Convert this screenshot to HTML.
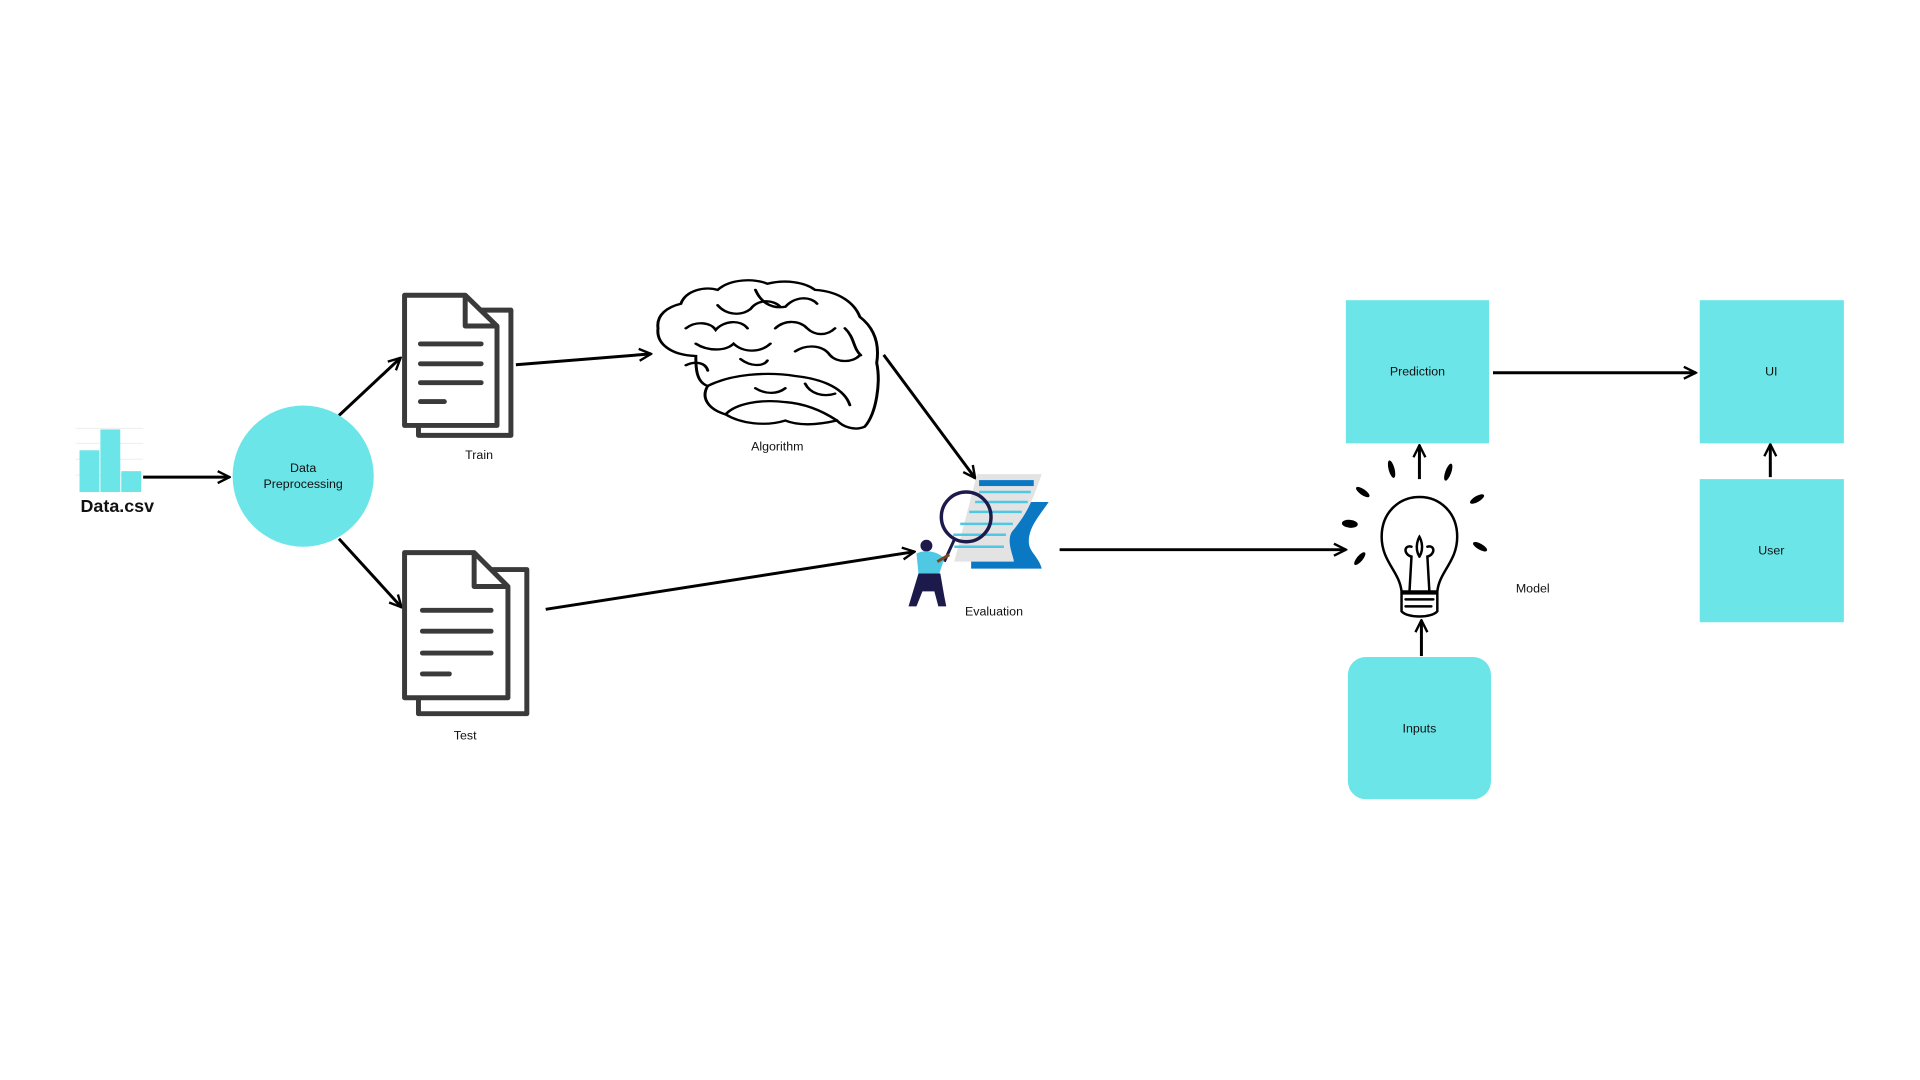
<!DOCTYPE html>
<html><head><meta charset="utf-8"><style>
html,body{margin:0;padding:0;background:#fff;width:1920px;height:1080px;overflow:hidden}
svg{display:block}
text{font-family:"Liberation Sans",sans-serif;fill:#111}
</style></head><body>
<svg width="1920" height="1080" viewBox="0 0 1920 1080" xmlns="http://www.w3.org/2000/svg">
<defs>
<marker id="ah" viewBox="0 0 10 10" refX="9" refY="5" markerWidth="5" markerHeight="5" orient="auto" markerUnits="strokeWidth">
<path d="M1 1 L9 5 L1 9" fill="none" stroke="#000" stroke-width="1.6"/>
</marker>
</defs>
<g transform="scale(0.994)">
<g stroke="#000" stroke-width="3" fill="none" marker-end="url(#ah)">
<line x1="144" y1="480" x2="231" y2="480"/>
<line x1="341" y1="418" x2="403" y2="360"/>
<line x1="341" y1="542" x2="404" y2="611"/>
<line x1="519" y1="367" x2="655" y2="356"/>
<line x1="889" y1="357" x2="981" y2="481"/>
<line x1="549" y1="613" x2="920" y2="555"/>
<line x1="1066" y1="553" x2="1354" y2="553"/>
<line x1="1428" y1="482" x2="1428" y2="448"/>
<line x1="1502" y1="375" x2="1706" y2="375"/>
<line x1="1781" y1="480" x2="1781" y2="447"/>
<line x1="1430" y1="660" x2="1430" y2="624"/>
</g>
<!-- bar chart -->
<g stroke="#eee" stroke-width="1"><line x1="76" y1="431" x2="144" y2="431"/><line x1="76" y1="446" x2="144" y2="446"/><line x1="76" y1="462" x2="144" y2="462"/><line x1="76" y1="478" x2="144" y2="478"/></g>
<rect x="80" y="453" width="20" height="42" fill="#6be5e8"/>
<rect x="101" y="432" width="20" height="63" fill="#6be5e8"/>
<rect x="122" y="474" width="20" height="21" fill="#6be5e8"/>
<text x="118" y="515" font-size="18" font-weight="bold" text-anchor="middle">Data.csv</text>
<!-- circle -->
<circle cx="305" cy="479" r="71" fill="#6be5e8"/>
<text x="305" y="475" font-size="12.5" text-anchor="middle">Data</text>
<text x="305" y="491" font-size="12.5" text-anchor="middle">Preprocessing</text>
<!-- train doc -->
<g stroke="#3a3a3a" stroke-width="5" fill="#fff" stroke-linejoin="round">
<path d="M421 312 H514 V438 H421 Z"/>
<path d="M407 297 H468 L500 328 V428 H407 Z"/>
<path d="M468 297 V328 H500" fill="none"/>
</g>
<g stroke="#3a3a3a" stroke-width="5" stroke-linecap="round"><line x1="423" y1="346" x2="484" y2="346"/><line x1="423" y1="366" x2="484" y2="366"/><line x1="423" y1="385" x2="484" y2="385"/><line x1="423" y1="404" x2="447" y2="404"/></g>
<text x="482" y="462" font-size="12.5" text-anchor="middle">Train</text>
<!-- test doc -->
<g stroke="#3a3a3a" stroke-width="5" fill="#fff" stroke-linejoin="round">
<path d="M421 573 H530 V718 H421 Z"/>
<path d="M407 556 H477 L511 590 V702 H407 Z"/>
<path d="M477 556 V590 H511" fill="none"/>
</g>
<g stroke="#3a3a3a" stroke-width="5" stroke-linecap="round"><line x1="425" y1="614" x2="494" y2="614"/><line x1="425" y1="635" x2="494" y2="635"/><line x1="425" y1="657" x2="494" y2="657"/><line x1="425" y1="678" x2="452" y2="678"/></g>
<text x="468" y="744" font-size="12.5" text-anchor="middle">Test</text>
<!-- brain -->
<g transform="translate(0,98.4) scale(1,0.773)">
<g stroke="#000" stroke-width="3" fill="none" stroke-linecap="round">
<path d="M700 336 C675 335 660 320 662 300 C660 282 672 272 685 268 C690 250 710 245 722 250 C735 235 760 235 772 242 C790 236 810 240 820 250 C845 252 860 268 865 285 C880 300 885 320 882 345 C886 370 882 410 870 428 C860 434 848 428 842 420 C825 425 805 428 790 420 C770 428 745 424 730 412 C712 405 705 390 712 375 C700 370 700 350 700 336 Z"/>
<path d="M712 375 C735 360 770 356 800 362 C830 366 850 380 855 400"/>
<path d="M730 412 C740 398 765 392 790 396 C810 398 828 408 842 420"/>
<path d="M690 300 C700 290 715 292 720 302 C728 290 745 288 752 300"/>
<path d="M700 320 C712 330 730 330 738 320 C748 332 765 332 775 320"/>
<path d="M722 270 C730 282 745 285 755 275 C762 262 778 262 785 272"/>
<path d="M780 300 C790 288 805 290 812 300 C820 310 832 310 840 300"/>
<path d="M800 330 C812 320 828 322 835 335 C842 345 858 345 865 335"/>
<path d="M760 250 C765 265 775 275 790 272 C800 258 815 258 822 268"/>
<path d="M690 348 C700 342 710 345 712 355"/>
<path d="M760 378 C770 386 782 386 790 378 M810 372 C815 385 828 390 840 385"/>
<path d="M745 340 C755 350 768 350 772 342"/>
<path d="M850 300 C860 312 858 326 866 335"/>
</g>
</g>
<text x="782" y="453" font-size="12.5" text-anchor="middle">Algorithm</text>
<!-- evaluation -->
<path d="M977 505 H1055 C1045 520 1035 530 1035 545 C1035 555 1045 560 1048 572 H977 Z" fill="#0a78c2"/>
<path d="M983 477 H1048 C1040 500 1035 515 1018 535 C1012 545 1020 560 1020 565 H960 Z" fill="#e3e3e3"/>
<rect x="985" y="483" width="55" height="6" fill="#0a78c2"/>
<g stroke="#4fc9e3" stroke-width="2.5"><line x1="985" y1="495" x2="1037" y2="495"/><line x1="981" y1="505" x2="1034" y2="505"/><line x1="975" y1="515" x2="1028" y2="515"/><line x1="966" y1="527" x2="1019" y2="527"/><line x1="959" y1="538" x2="1012" y2="538"/><line x1="960" y1="550" x2="1010" y2="550"/></g>
<circle cx="972" cy="520" r="25" fill="none" stroke="#1c1a4a" stroke-width="3.5"/>
<line x1="960" y1="543" x2="950" y2="565" stroke="#1c1a4a" stroke-width="3"/>
<circle cx="932" cy="549" r="6" fill="#1c1a4a"/>
<path d="M922 557 C930 552 945 555 950 562 L945 577 H924 Z" fill="#4fc9e3"/>
<path d="M924 577 H946 L950 600 L952 610 H944 L940 595 L928 595 L922 610 H914 Z" fill="#1c1a4a"/>
<path d="M943 565 L955 558" stroke="#7a4520" stroke-width="3"/>
<text x="1000" y="619" font-size="12.5" text-anchor="middle">Evaluation</text>
<!-- bulb -->
<g stroke="#000" stroke-width="2.5" fill="none" stroke-linecap="round">
<path d="M1410 595 C1408 575 1390 565 1390 540 C1390 515 1408 500 1428 500 C1448 500 1466 515 1466 540 C1466 565 1448 575 1446 595 Z" fill="#fff"/>
<path d="M1418 595 L1420 560 C1412 558 1412 548 1420 550 M1438 595 L1436 560 C1444 558 1444 548 1436 550 M1428 560 C1422 550 1428 540 1428 540 C1428 540 1434 550 1428 560"/>
<path d="M1410 597 H1446 V615 C1440 622 1416 622 1410 615 Z" fill="#fff"/>
<line x1="1414" y1="603" x2="1442" y2="603"/><line x1="1414" y1="610" x2="1440" y2="610"/>
</g>
<g fill="#000">
<ellipse cx="1400" cy="472" rx="3" ry="9" transform="rotate(-15 1400 472)"/>
<ellipse cx="1457" cy="475" rx="3" ry="9" transform="rotate(20 1457 475)"/>
<ellipse cx="1371" cy="495" rx="3" ry="8" transform="rotate(-55 1371 495)"/>
<ellipse cx="1486" cy="502" rx="3" ry="8" transform="rotate(60 1486 502)"/>
<ellipse cx="1358" cy="527" rx="4" ry="8" transform="rotate(-85 1358 527)"/>
<ellipse cx="1489" cy="550" rx="3" ry="8" transform="rotate(-60 1489 550)"/>
<ellipse cx="1368" cy="562" rx="3" ry="8" transform="rotate(40 1368 562)"/>
</g>
<text x="1542" y="596" font-size="12.5" text-anchor="middle">Model</text>
<!-- boxes -->
<rect x="1354" y="302" width="144" height="144" fill="#6be5e8"/>
<text x="1426" y="378" font-size="12.5" text-anchor="middle">Prediction</text>
<rect x="1710" y="302" width="145" height="144" fill="#6be5e8"/>
<text x="1782" y="378" font-size="12.5" text-anchor="middle">UI</text>
<rect x="1710" y="482" width="145" height="144" fill="#6be5e8"/>
<text x="1782" y="558" font-size="12.5" text-anchor="middle">User</text>
<rect x="1356" y="661" width="144" height="143" rx="18" fill="#6be5e8"/>
<text x="1428" y="737" font-size="12.5" text-anchor="middle">Inputs</text>
</g>
</svg>
</body></html>
